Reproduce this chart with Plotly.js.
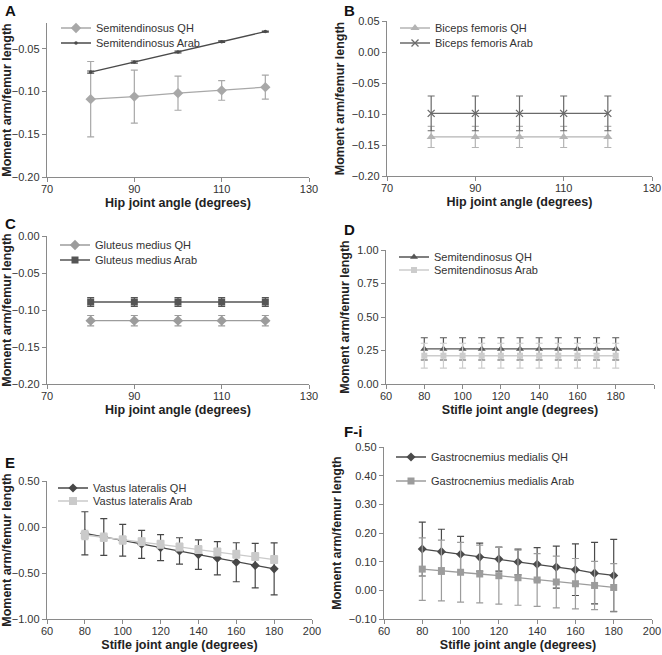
<!DOCTYPE html>
<html><head><meta charset="utf-8">
<script src="https://cdn.plot.ly/plotly-3.0.1.min.js"></script>
<style>html,body{margin:0;padding:0;background:#fff}#chart{width:662px;height:655px}</style>
</head><body><div id="chart"></div>
<script>
// ---- data ----
const hipAngles = [80, 90, 100, 110, 120];
const stifleAngles = [80, 90, 100, 110, 120, 130, 140, 150, 160, 170, 180];

// A: Semitendinosus (hip)
const stQH_A = [-0.109, -0.106, -0.102, -0.0988, -0.095];
const stQH_A_err = [0.044, 0.031, 0.020, 0.0115, 0.014];
const stArab_A = [-0.0773, -0.0656, -0.0539, -0.0418, -0.030];
const stArab_A_err = [0.0012, 0.0012, 0.0010, 0.0008, 0.0006];

// B: Biceps femoris (hip)
const bfQH = [-0.137, -0.137, -0.137, -0.137, -0.137];
const bfQH_err = [0.017, 0.017, 0.017, 0.017, 0.017];
const bfArab = [-0.099, -0.099, -0.099, -0.099, -0.099];
const bfArab_err = [0.028, 0.028, 0.028, 0.028, 0.028];

// C: Gluteus medius (hip)
const gmQH = [-0.1144, -0.1144, -0.1144, -0.1144, -0.1144];
const gmQH_err = [0.007, 0.007, 0.007, 0.007, 0.007];
const gmArab = [-0.0892, -0.0892, -0.0892, -0.0892, -0.0892];
const gmArab_err = [0.006, 0.006, 0.006, 0.006, 0.006];

// D: Semitendinosus (stifle)
const stQH_D = [0.262, 0.262, 0.262, 0.262, 0.262, 0.262, 0.262, 0.262, 0.262, 0.262, 0.262];
const stQH_D_err = [0.083, 0.083, 0.083, 0.083, 0.083, 0.083, 0.083, 0.083, 0.083, 0.083, 0.083];
const stArab_D = [0.211, 0.211, 0.211, 0.211, 0.211, 0.211, 0.211, 0.211, 0.211, 0.211, 0.211];
const stArab_D_err = [0.093, 0.093, 0.093, 0.093, 0.093, 0.093, 0.093, 0.093, 0.093, 0.093, 0.093];

// E: Vastus lateralis (stifle)
const vlQH = [-0.069, -0.108, -0.144, -0.188, -0.224, -0.260, -0.300, -0.340, -0.383, -0.419, -0.455];
const vlQH_err = [0.235, 0.200, 0.172, 0.152, 0.142, 0.143, 0.160, 0.180, 0.212, 0.242, 0.282];
const vlArab = [-0.087, -0.112, -0.141, -0.159, -0.188, -0.217, -0.245, -0.271, -0.296, -0.321, -0.354];
const vlArab_err = [0.050, 0.045, 0.045, 0.042, 0.042, 0.042, 0.042, 0.042, 0.042, 0.042, 0.042];

// F-i: Gastrocnemius medialis (stifle)
const gasQH = [0.144, 0.135, 0.126, 0.116, 0.109, 0.099, 0.091, 0.081, 0.072, 0.060, 0.052];
const gasQH_err = [0.094, 0.078, 0.062, 0.049, 0.042, 0.045, 0.058, 0.073, 0.090, 0.107, 0.126];
const gasArab = [0.074, 0.069, 0.063, 0.057, 0.051, 0.044, 0.036, 0.029, 0.023, 0.017, 0.010];
const gasArab_err = [0.109, 0.106, 0.104, 0.101, 0.099, 0.096, 0.092, 0.090, 0.088, 0.084, 0.083];

const hipTicks = [70, 90, 110, 130];
const stifleTicks = [60, 80, 100, 120, 140, 160, 180, 200];

// ---- helpers ----
const W = 662, H = 655;
const FONT = 'Liberation Sans, Arial, sans-serif';
function trace(x, y, err, name, color, symbol, size, xa, ya, leg) {
  return {
    type: 'scatter', mode: 'lines+markers', x: x, y: y, name: name,
    xaxis: xa, yaxis: ya, legend: leg,
    line: {color: color, width: 1.3},
    marker: {color: color, symbol: symbol, size: size, line: {color: color, width: symbol === 'x-thin' ? 1.3 : 0}},
    error_y: {type: 'data', array: err, visible: true, color: color, thickness: 1.2, width: 3.5},
    showlegend: true
  };
}
const traces = [
  trace(hipAngles, stQH_A, stQH_A_err, 'Semitendinosus QH', '#a8a8a8', 'diamond', 8, 'x', 'y', 'legend'),
  trace(hipAngles, stArab_A, stArab_A_err, 'Semitendinosus Arab', '#4a4a4a', 'circle', 3.5, 'x', 'y', 'legend7'),
  trace(hipAngles, bfQH, bfQH_err, 'Biceps femoris QH', '#b4b4b4', 'triangle-up', 8, 'x2', 'y2', 'legend2'),
  trace(hipAngles, bfArab, bfArab_err, 'Biceps femoris Arab', '#6a6a6a', 'x-thin', 7, 'x2', 'y2', 'legend8'),
  trace(hipAngles, gmQH, gmQH_err, 'Gluteus medius QH', '#9c9c9c', 'diamond', 8, 'x3', 'y3', 'legend3'),
  trace(hipAngles, gmArab, gmArab_err, 'Gluteus medius Arab', '#555555', 'square', 7, 'x3', 'y3', 'legend9'),
  trace(stifleAngles, stQH_D, stQH_D_err, 'Semitendinosus QH', '#555555', 'triangle-up', 7, 'x4', 'y4', 'legend4'),
  trace(stifleAngles, stArab_D, stArab_D_err, 'Semitendinosus Arab', '#cccccc', 'square', 6, 'x4', 'y4', 'legend10'),
  trace(stifleAngles, vlQH, vlQH_err, 'Vastus lateralis QH', '#474747', 'diamond', 7, 'x5', 'y5', 'legend5'),
  trace(stifleAngles, vlArab, vlArab_err, 'Vastus lateralis Arab', '#cacaca', 'square', 8, 'x5', 'y5', 'legend11'),
  trace(stifleAngles, gasQH, gasQH_err, 'Gastrocnemius medialis QH', '#4a4a4a', 'diamond', 7, 'x6', 'y6', 'legend6'),
  trace(stifleAngles, gasArab, gasArab_err, 'Gastrocnemius medialis Arab', '#9c9c9c', 'square', 7, 'x6', 'y6', 'legend12')
];

function dx(a, b) { return [a / W, b / W]; }
function dy(top, bottom) { return [1 - bottom / H, 1 - top / H]; }
const axisBase = {
  showgrid: false, zeroline: false, showline: true, linecolor: '#8a8a8a', linewidth: 1.2,
  ticks: 'outside', ticklen: 4, tickcolor: '#8a8a8a', tickwidth: 1,
  tickfont: {family: FONT, size: 11, color: '#333'}, fixedrange: true
};
function xax(domain, anchor, range, ticks, title) {
  return Object.assign({}, axisBase, {domain: domain, anchor: anchor, range: range, tickvals: ticks,
    ticklabelstandoff: -2,
    title: {text: '<b>' + title + '</b>', font: {family: FONT, size: 12.5, color: '#222'}, standoff: 3}});
}
function yax(domain, anchor, range, dtick, fmt) {
  return Object.assign({}, axisBase, {domain: domain, anchor: anchor, range: range, dtick: dtick, tick0: 0, tickformat: fmt,
    title: {text: '<b>Moment arm/femur length</b>', font: {family: FONT, size: 12.5, color: '#222'}, standoff: 4}});
}
function leg(x, yc) {
  return {x: x / W, y: 1 - yc / H, xanchor: 'left', yanchor: 'middle', bgcolor: 'rgba(0,0,0,0)',
    font: {family: FONT, size: 11, color: '#333'}, itemwidth: 30, tracegroupgap: 0, borderwidth: 0};
}
function letter(text, x, y) {
  return {text: '<b>' + text + '</b>', x: x / W, y: 1 - y / H, xref: 'paper', yref: 'paper',
    xanchor: 'left', yanchor: 'middle', showarrow: false, font: {family: FONT, size: 15, color: '#111'}};
}
const hipT = 'Hip joint angle (degrees)', stT = 'Stifle joint angle (degrees)';
const layout = {
  width: W, height: H, margin: {l: 0, r: 0, t: 0, b: 0}, paper_bgcolor: '#fff', plot_bgcolor: '#fff',
  font: {family: FONT},
  xaxis: xax(dx(47, 309), 'y', [70, 130], hipTicks, hipT),
  yaxis: yax(dy(23, 177), 'x', [-0.2, -0.02], 0.05, '.2f'),
  xaxis2: xax(dx(387, 652), 'y2', [70, 130], hipTicks, hipT),
  yaxis2: yax(dy(21, 176), 'x2', [-0.2, 0.05], 0.05, '.2f'),
  xaxis3: xax(dx(47, 309), 'y3', [70, 130], hipTicks, hipT),
  yaxis3: yax(dy(236, 384), 'x3', [-0.2, 0], 0.05, '.2f'),
  xaxis4: xax(dx(386, 654), 'y4', [60, 200], stifleTicks, stT),
  yaxis4: yax(dy(250, 384), 'x4', [0, 1], 0.25, '.2f'),
  xaxis5: xax(dx(47, 312), 'y5', [60, 200], stifleTicks, stT),
  yaxis5: yax(dy(481, 619), 'x5', [-1, 0.5], 0.5, '.2f'),
  xaxis6: xax(dx(384, 652), 'y6', [60, 200], stifleTicks, stT),
  yaxis6: yax(dy(447, 619), 'x6', [-0.1, 0.5], 0.1, '.2f'),
  legend: leg(56, 28), legend7: leg(56, 43),
  legend2: leg(395, 28), legend8: leg(395, 43),
  legend3: leg(55, 245), legend9: leg(55, 260),
  legend4: leg(394, 257), legend10: leg(394, 270),
  legend5: leg(53, 488), legend11: leg(53, 501),
  legend6: leg(391, 457), legend12: leg(391, 481),
  annotations: [letter('A', 3, 11), letter('B', 342, 11), letter('C', 3, 224), letter('D', 342, 230),
                letter('E', 3, 462), letter('F-i', 342, 431)]
};
Plotly.newPlot('chart', traces, layout, {displayModeBar: false, staticPlot: true});
</script></body></html>
